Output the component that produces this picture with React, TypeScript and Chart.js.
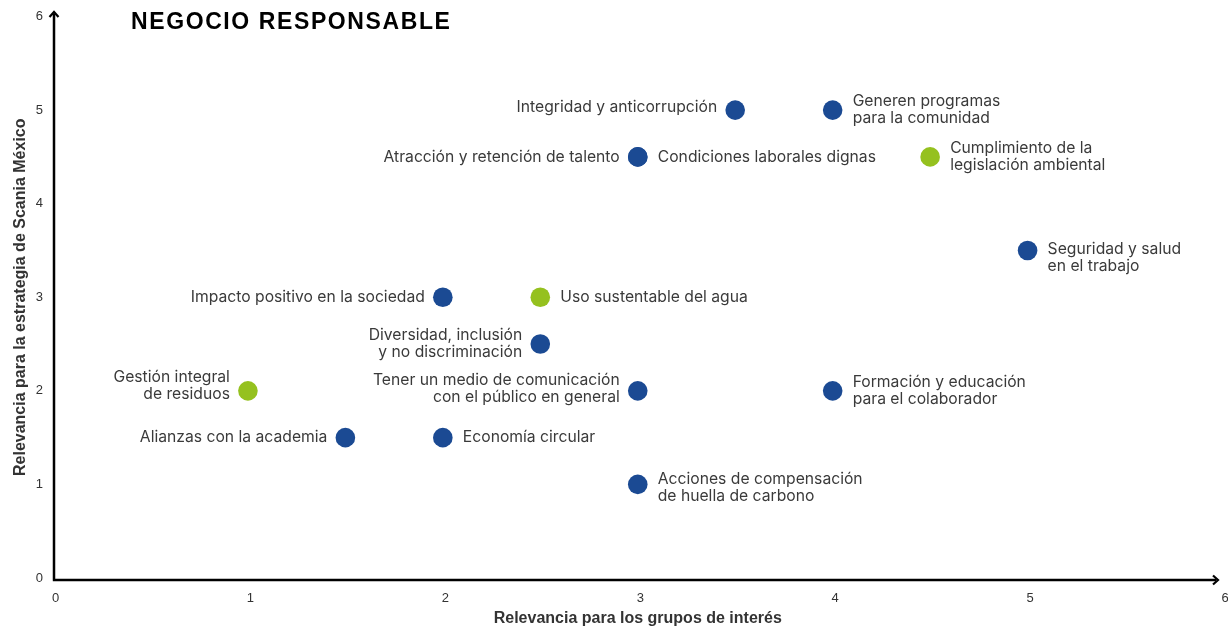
import React, { useEffect, useRef } from "react";
import { Chart, registerables } from "chart.js";

Chart.register(...registerables);

// ---- Data ----
const chartTitle = "NEGOCIO RESPONSABLE";
const xAxisTitle = "Relevancia para los grupos de interés";
const yAxisTitle = "Relevancia para la estrategia de Scania México";

const topicNames = [
  "Integridad y anticorrupción",
  "Generen programas\npara la comunidad",
  "Atracción y retención de talento",
  "Condiciones laborales dignas",
  "Cumplimiento de la\nlegislación ambiental",
  "Seguridad y salud\nen el trabajo",
  "Impacto positivo en la sociedad",
  "Uso sustentable del agua",
  "Diversidad, inclusión\ny no discriminación",
  "Gestión integral\nde residuos",
  "Tener un medio de comunicación\ncon el público en general",
  "Formación y educación\npara el colaborador",
  "Alianzas con la academia",
  "Economía circular",
  "Acciones de compensación\nde huella de carbono",
];
const relevanciaGrupos = [3.5, 4, 3, 3, 4.5, 5, 2, 2.5, 2.5, 1, 3, 4, 1.5, 2, 3];
const relevanciaEstrategia = [5, 5, 4.5, 4.5, 4.5, 3.5, 3, 3, 2.5, 2, 2, 2, 1.5, 1.5, 1];
const topicTypes = [
  "social", "social", "social", "social", "ambiental", "social", "social",
  "ambiental", "social", "ambiental", "social", "social", "social", "social", "social",
];
const xTickValues = [0, 1, 2, 3, 4, 5, 6];
const yTickValues = [0, 1, 2, 3, 4, 5, 6];

// ---- Layout / style (not data) ----
const labelSides = [
  "left", "right", "left", "right", "right", "right", "left",
  "right", "left", "left", "left", "right", "left", "right", "right",
];
const labelDy = [-3, 0, 0, 0, 0, 7, 0, 0, 0, -5, -2, 0, 0, 0, 3];
const typeColors: Record<string, string> = { social: "#1b4a93", ambiental: "#95c11f" };

const annotationsPlugin = {
  id: "annotations",
  afterDatasetsDraw(chart: any) {
    const { ctx, chartArea, scales } = chart;
    const xs = scales.x;
    const ys = scales.y;
    ctx.save();
    // axes with arrows
    ctx.strokeStyle = "#000";
    ctx.lineWidth = 2.5;
    const x0 = chartArea.left + 1;
    const y0 = chartArea.bottom + 2;
    const yTop = 12;
    const xEnd = 1218;
    ctx.beginPath();
    ctx.moveTo(x0, y0);
    ctx.lineTo(x0, yTop + 2);
    ctx.moveTo(x0 - 1.2, y0);
    ctx.lineTo(xEnd - 2, y0);
    ctx.stroke();
    ctx.lineWidth = 2.2;
    ctx.lineJoin = "miter";
    ctx.beginPath();
    ctx.moveTo(x0 - 4.5, yTop + 5);
    ctx.lineTo(x0, yTop);
    ctx.lineTo(x0 + 4.5, yTop + 5);
    ctx.stroke();
    ctx.beginPath();
    ctx.moveTo(xEnd - 5, y0 - 4.5);
    ctx.lineTo(xEnd, y0);
    ctx.lineTo(xEnd - 5, y0 + 4.5);
    ctx.stroke();

    // point labels
    ctx.font = "15.7px Inter, 'Noto Sans', sans-serif";
    ctx.fillStyle = "#3a3a3a";
    ctx.textBaseline = "middle";
    const lineH = 17;
    topicNames.forEach((name, i) => {
      const px = xs.getPixelForValue(relevanciaGrupos[i]);
      const py = ys.getPixelForValue(relevanciaEstrategia[i]);
      const lines = name.split("\n");
      const side = labelSides[i];
      ctx.textAlign = side === "left" ? "right" : "left";
      const tx = side === "left" ? px - 18 : px + 20;
      const startY = py + labelDy[i] - ((lines.length - 1) * lineH) / 2;
      lines.forEach((ln, k) => ctx.fillText(ln, tx, startY + k * lineH));
    });

    // chart title
    ctx.font = "bold 23px 'Liberation Sans', Arial, sans-serif";
    (ctx as any).letterSpacing = "1.6px";
    ctx.fillStyle = "#000";
    ctx.textAlign = "left";
    ctx.textBaseline = "alphabetic";
    ctx.fillText(chartTitle, 131, 29);
    (ctx as any).letterSpacing = "0px";
    ctx.restore();
  },
};

export default function App() {
  const canvasRef = useRef<HTMLCanvasElement | null>(null);

  useEffect(() => {
    const canvas = canvasRef.current;
    if (!canvas) return;
    const chart = new Chart(canvas, {
      type: "scatter",
      data: {
        datasets: [
          {
            label: "Temas",
            data: topicNames.map((_, i) => ({ x: relevanciaGrupos[i], y: relevanciaEstrategia[i] })),
            pointBackgroundColor: topicTypes.map((t) => typeColors[t]),
            pointBorderWidth: 0,
            pointRadius: 9.8,
            pointHoverRadius: 9.8,
          },
        ],
      },
      options: {
        animation: false,
        responsive: true,
        maintainAspectRatio: false,
        layout: { autoPadding: false, padding: { top: 16.5, right: 5.5, bottom: 0, left: 0 } },
        plugins: {
          legend: { display: false },
          tooltip: { enabled: false },
        },
        scales: {
          x: {
            type: "linear",
            min: 0,
            max: 6,
            grid: { display: false, drawTicks: false },
            border: { display: false },
            afterBuildTicks: (scale: any) => {
              scale.ticks = xTickValues.map((v) => ({ value: v }));
            },
            afterFit: (scale: any) => {
              scale.height = 61;
              scale.paddingLeft = 0;
              scale.paddingRight = 0;
            },
            ticks: {
              padding: 13,
              labelOffset: 2.5,
              color: "#333",
              font: { size: 13, family: "'Liberation Sans', Arial, sans-serif" },
            },
            title: {
              display: true,
              text: xAxisTitle,
              color: "#333",
              font: { size: 16, weight: "bold", family: "'Liberation Sans', Arial, sans-serif" },
              padding: { top: 0, bottom: 10.4 },
            },
          },
          y: {
            type: "linear",
            min: 0,
            max: 6,
            grid: { display: false, drawTicks: false },
            border: { display: false },
            afterBuildTicks: (scale: any) => {
              scale.ticks = yTickValues.map((v) => ({ value: v }));
            },
            afterFit: (scale: any) => {
              scale.width = 53;
              scale.paddingTop = 0;
              scale.paddingBottom = 0;
            },
            ticks: {
              padding: 10,
              color: "#333",
              font: { size: 13, family: "'Liberation Sans', Arial, sans-serif" },
            },
            title: {
              display: true,
              text: yAxisTitle,
              color: "#333",
              font: { size: 16, weight: "bold", family: "'Liberation Sans', Arial, sans-serif" },
              padding: { top: 10.5, bottom: 0 },
            },
          },
        },
      },
      plugins: [annotationsPlugin],
    });
    return () => chart.destroy();
  }, []);

  return (
    <div style={{ position: "fixed", left: 0, top: 0, width: 1228, height: 639, background: "#fff" }}>
      <canvas ref={canvasRef} />
    </div>
  );
}
